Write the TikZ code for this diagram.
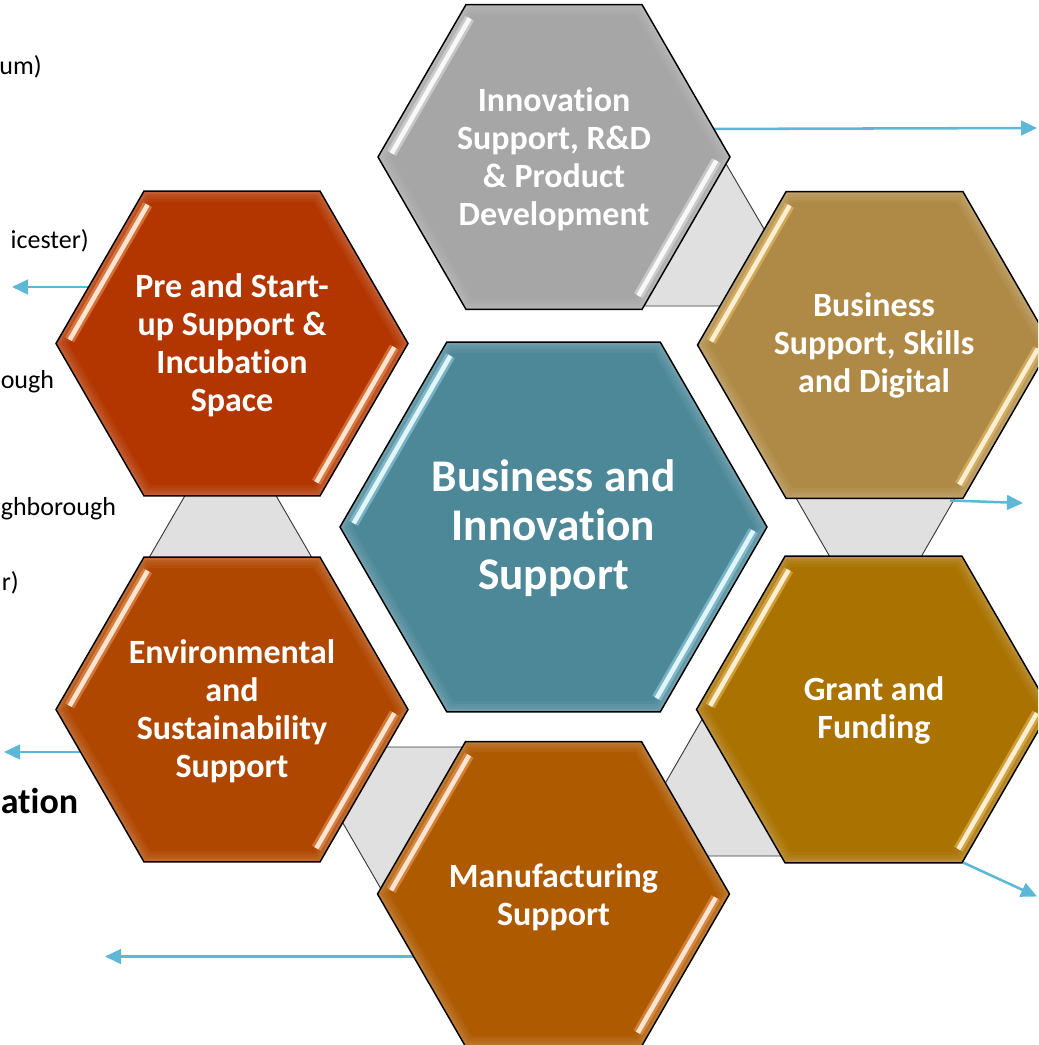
\documentclass[tikz,border=0pt]{standalone}
\usepackage{fontspec}
\setmainfont{Carlito}[Ligatures=NoCommon]
\usetikzlibrary{calc,arrows.meta}

\definecolor{cGray}{HTML}{A6A6A6}
\definecolor{cGoldA}{HTML}{AF8A46}
\definecolor{cGoldB}{HTML}{AA7200}
\definecolor{cManu}{HTML}{AE5A00}
\definecolor{cEnv}{HTML}{B04700}
\definecolor{cPre}{HTML}{B33600}
\definecolor{cCtr}{HTML}{4D8898}
\definecolor{cTri}{HTML}{E0E0E0}
\definecolor{cTriLine}{HTML}{3A3A3A}
\definecolor{cArrow}{HTML}{5DB8D7}
\definecolor{hlOrange}{HTML}{F5A66A}
\definecolor{hlGold}{HTML}{F2C86A}
\definecolor{hlGray}{HTML}{E8E8E8}
\definecolor{hlBlue}{HTML}{9FDDEE}

\newcommand\hexpath[2]{($(#1)+(#2,0)$) -- ($(#1)+(0.5*#2,0.866*#2)$) -- ($(#1)+(-0.5*#2,0.866*#2)$) -- ($(#1)+(-#2,0)$) -- ($(#1)+(-0.5*#2,-0.866*#2)$) -- ($(#1)+(0.5*#2,-0.866*#2)$) -- cycle}

% #1 centre coordinate, #2 radius (px), #3 fill colour, #4 highlight colour
\newcommand\drawhex[4]{%
  \fill[#3] \hexpath{#1}{#2};
  \begin{scope}
    \clip \hexpath{#1}{#2};
    \draw[line width=16pt, white, opacity=0.045] \hexpath{#1}{#2};
    \draw[line width=12pt, white, opacity=0.045] \hexpath{#1}{#2};
    \draw[line width=8pt, white, opacity=0.06] \hexpath{#1}{#2};
    \draw[line width=4pt, white, opacity=0.08] \hexpath{#1}{#2};
  \end{scope}
  \draw[line width=7.5pt, #4, opacity=0.5] ($(#1)+(-0.5*#2+3.66,-0.866*#2+13.66)$) -- ($(#1)+(-#2+13.66,-3.66)$);
  \draw[line width=3.4pt, #4!30!white] ($(#1)+(-0.5*#2+3.66,-0.866*#2+13.66)$) -- ($(#1)+(-#2+13.66,-3.66)$);
  \draw[line width=7.5pt, #4, opacity=0.5] ($(#1)+(#2-13.66,3.66)$) -- ($(#1)+(0.5*#2-3.66,0.866*#2-13.66)$);
  \draw[line width=3.4pt, #4!30!white] ($(#1)+(#2-13.66,3.66)$) -- ($(#1)+(0.5*#2-3.66,0.866*#2-13.66)$);
  \draw[line width=1.1pt, black, line join=miter] \hexpath{#1}{#2};
}

\tikzset{
  tri/.style={fill=cTri, draw=cTriLine, line width=0.7pt, line join=miter},
  arr/.style={draw=cArrow, line width=1.9pt, -{Triangle[length=12pt,width=11pt]}},
  hexlabel/.style={text=white, align=center, inner sep=0pt,
    font=\fontsize{25.5}{28.5}\selectfont\bfseries},
  ctrlabel/.style={text=white, align=center, inner sep=0pt,
    font=\fontsize{34}{36.75}\selectfont\bfseries},
  frag/.style={text=black, inner sep=0pt,
    font=\fontsize{19.5}{23}\selectfont},
  fragbold/.style={text=black, inner sep=0pt,
    font=\fontsize{27}{30}\selectfont\bfseries},
}

\begin{document}
\begin{tikzpicture}[x=0.75pt, y=-0.75pt]
\useasboundingbox (0,0) rectangle (1038,1045);
\clip (0,0) rectangle (1038,1045);

% hexagon centres
\coordinate (ctr) at (553.5,527);
\coordinate (top) at (554,157);
\coordinate (ur) at (874.5,345);
\coordinate (lr) at (873.5,709.5);
\coordinate (bot) at (553.5,894);
\coordinate (ll) at (232,709.5);
\coordinate (ul) at (232,343.5);

% connector triangles
\coordinate (t1a) at (722,157);   \coordinate (t1b) at (636,306);   \coordinate (t1c) at (809,306);
\coordinate (t2a) at (791.4,490); \coordinate (t2b) at (959.6,490); \coordinate (t2c) at (875.5,636);
\coordinate (t3a) at (706.3,712); \coordinate (t3b) at (623.2,856); \coordinate (t3c) at (789.4,856);
\coordinate (t4a) at (299,747);   \coordinate (t4b) at (470,747);   \coordinate (t4c) at (384.5,895);
\coordinate (t5a) at (230.5,417); \coordinate (t5b) at (144.8,565); \coordinate (t5c) at (316.2,565);
\filldraw[tri] (t1a) -- (t1b) -- (t1c) -- cycle;
\filldraw[tri] (t2a) -- (t2b) -- (t2c) -- cycle;
\filldraw[tri] (t3a) -- (t3b) -- (t3c) -- cycle;
\filldraw[tri] (t4a) -- (t4b) -- (t4c) -- cycle;
\filldraw[tri] (t5a) -- (t5b) -- (t5c) -- cycle;

% arrows
\coordinate (a1s) at (700,129);   \coordinate (a1e) at (1037,128);
\coordinate (a2s) at (950,500.5); \coordinate (a2e) at (1023,503);
\coordinate (a3s) at (957.6,860); \coordinate (a3e) at (1037,896.5);
\coordinate (a4s) at (425,956.5); \coordinate (a4e) at (105,956.5);
\coordinate (a5s) at (95,752);    \coordinate (a5e) at (4,752);
\coordinate (a6s) at (100,287);   \coordinate (a6e) at (12,287);
\draw[arr] (a1s) -- (a1e);
\draw[arr] (a2s) -- (a2e);
\draw[arr] (a3s) -- (a3e);
\draw[arr] (a4s) -- (a4e);
\draw[arr] (a5s) -- (a5e);
\draw[arr] (a6s) -- (a6e);

% hexagons
\drawhex{top}{176}{cGray}{hlGray}
\drawhex{ur}{177}{cGoldA}{hlGold}
\drawhex{lr}{177}{cGoldB}{hlGold}
\drawhex{bot}{176}{cManu}{hlOrange}
\drawhex{ll}{176}{cEnv}{hlOrange}
\drawhex{ul}{176}{cPre}{hlOrange}
\drawhex{ctr}{213.5}{cCtr}{hlBlue}

% labels
\node[hexlabel] (topL) at (554,159.5) {Innovation\\Support, R\&D\\\& Product\\Development};
\node[hexlabel] (urL) at (874,345.5) {Business\\Support, Skills\\and Digital};
\node[hexlabel] (lrL) at (874,710.5) {Grant and\\Funding};
\node[hexlabel] (botL) at (553.5,897) {Manufacturing\\Support};
\node[hexlabel] (llL) at (232,711.5) {Environmental\\and\\Sustainability\\Support};
\node[hexlabel] (ulL) at (232,345.5) {Pre and Start-\\up Support \&\\Incubation\\Space};
\node[ctrlabel] (ctrL) at (553.5,528.5) {Business and\\Innovation\\Support};

% text fragments at the left edge
\node[frag, anchor=base east] (f1) at (42,75) {um)};
\node[frag, anchor=base east] (f2) at (89,248) {icester)};
\node[frag, anchor=base west] (f3) at (0.5,388) {ough};
\node[frag, anchor=base west] (f4) at (0.5,515) {ghborough};
\node[frag, anchor=base east] (f5) at (19,590) {r)};
\node[fragbold, anchor=base west] (f6) at (0.5,813) {ation};
\end{tikzpicture}
\end{document}
